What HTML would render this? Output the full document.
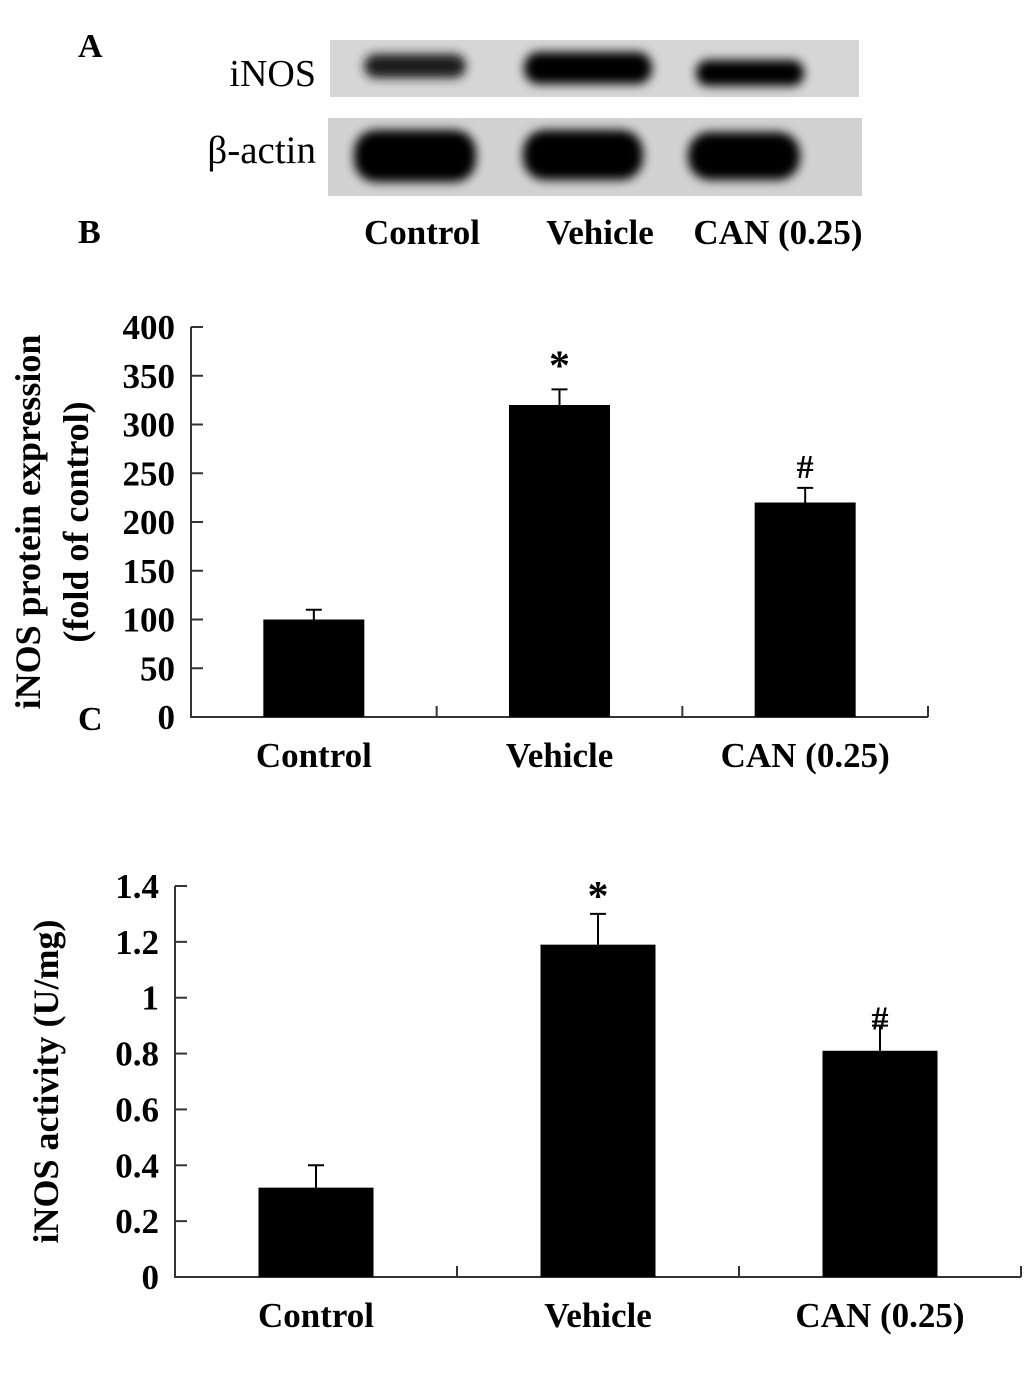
<!DOCTYPE html>
<html><head><meta charset="utf-8"><style>
html,body{margin:0;padding:0;background:#fff}
svg{display:block}
text{font-family:"Liberation Serif",serif;font-weight:bold;fill:#000}
</style></head><body>
<svg width="1033" height="1390" viewBox="0 0 1033 1390">
<defs>
<filter id="blur" x="-30%" y="-60%" width="160%" height="220%"><feGaussianBlur stdDeviation="5"/></filter>
</defs>
<g>
<text x="78" y="57" font-size="34">A</text>
<text x="316" y="86" font-size="38" text-anchor="end" style="font-weight:normal">iNOS</text>
<text x="316" y="163" font-size="39" text-anchor="end" style="font-weight:normal">β-actin</text>
<rect x="330" y="40" width="529" height="57" fill="#d6d6d6"/>
<rect x="328" y="118" width="534" height="78" fill="#d2d2d2"/>
<g filter="url(#blur)">
<rect x="364" y="54" width="102" height="24" rx="12" fill="#1a1a1a"/>
<rect x="524" y="52" width="128" height="32" rx="15" fill="#000"/>
<rect x="696" y="60" width="108" height="26" rx="12" fill="#050505"/>
<rect x="354" y="130" width="122" height="52" rx="22" fill="#000"/>
<rect x="523" y="130" width="120" height="50" rx="22" fill="#000"/>
<rect x="688" y="132" width="112" height="48" rx="22" fill="#000"/>
</g>
<text x="78" y="243" font-size="34">B</text>
<text x="422" y="244" font-size="35" text-anchor="middle">Control</text>
<text x="600" y="244" font-size="35" text-anchor="middle">Vehicle</text>
<text x="778" y="244" font-size="35" text-anchor="middle">CAN (0.25)</text>
<text x="78" y="730" font-size="34">C</text>
</g>
<g id="chartB"></g>
<g id="chartC"></g>
</svg>
<script>
const categories = ["Control", "Vehicle", "CAN (0.25)"];
const bValues = [100, 320, 220];
const bErrors = [10, 16, 15];
const bMarks = ["", "*", "#"];
const bTicks = [0, 50, 100, 150, 200, 250, 300, 350, 400];
const cValues = [0.32, 1.19, 0.81];
const cErrors = [0.08, 0.11, 0.09];
const cMarks = ["", "*", "#"];
const cTicks = ["0", "0.2", "0.4", "0.6", "0.8", "1", "1.2", "1.4"];

const NS = "http://www.w3.org/2000/svg";
function mk(parent, tag, attrs, txt) {
  const e = document.createElementNS(NS, tag);
  for (const k in attrs) e.setAttribute(k, attrs[k]);
  if (txt !== undefined) e.textContent = txt;
  parent.appendChild(e);
  return e;
}
function drawChart(g, cfg) {
  const y = v => cfg.y0 - (v - cfg.min) / (cfg.max - cfg.min) * (cfg.y0 - cfg.yTop);
  const slot = (cfg.xEnd - cfg.x0) / categories.length;
  const axis = mk(g, "path", {d: `M${cfg.x0} ${cfg.yTop}V${cfg.y0}H${cfg.xEnd}`, stroke: "#333", "stroke-width": 2, fill: "none"});
  
  
  cfg.ticks.forEach(t => {
    const v = parseFloat(t);
    const ty = y(v);
    const tk = mk(g, "line", {x1: cfg.x0, x2: cfg.x0 + 12, y1: ty, y2: ty, stroke: "#333", "stroke-width": 2});
    
    
    const tl = mk(g, "text", {x: cfg.x0 - 16, y: ty + 12, "font-size": 35, "text-anchor": "end"}, t);
    
    
  });
  categories.forEach((c, i) => {
    const sx = cfg.x0 + slot * (i + 1);
    const sep = mk(g, "line", {x1: sx, x2: sx, y1: cfg.y0, y2: cfg.y0 - 11, stroke: "#333", "stroke-width": 2});
    
    
    const cx = cfg.x0 + slot * (i + 0.5);
    const top = y(cfg.values[i]);
    const et = y(cfg.values[i] + cfg.errors[i]);
    const eb = mk(g, "path", {d: `M${cx} ${top}V${et}M${cx - 8} ${et}H${cx + 8}`, stroke: "#000", "stroke-width": 2, fill: "none"});
    
    
    const bar = mk(g, "rect", {x: cx - cfg.bw / 2, y: top, width: cfg.bw, height: cfg.y0 - top, fill: "#000"});
    
    
    if (cfg.marks[i]) {
      const star = cfg.marks[i] === "*";
      const m = mk(g, "text", {x: cx, y: star ? et + cfg.starDy : et + cfg.hashDy, "font-size": star ? 42 : 34, "text-anchor": "middle"}, cfg.marks[i]);
      
      
    }
    const xl = mk(g, "text", {x: cx, y: cfg.y0 + 50, "font-size": 35, "text-anchor": "middle"}, c);
    
    
  });
  cfg.titles.forEach((t, k) => {
    const tx = cfg.titleX[k];
    const ty = (cfg.y0 + cfg.yTop) / 2;
    const yt = mk(g, "text", {x: tx, y: ty, "font-size": 36, "text-anchor": "middle", transform: `rotate(-90 ${tx} ${ty})`}, t);
    
    
  });
}
drawChart(document.getElementById("chartB"), {x0: 191, xEnd: 928, yTop: 327, y0: 717, min: 0, max: 400, bw: 101, hashDy: -10, starDy: -10,
  ticks: bTicks.map(String), values: bValues, errors: bErrors, marks: bMarks,
  titles: ["iNOS protein expression", "(fold of control)"], titleX: [40, 88]});
drawChart(document.getElementById("chartC"), {x0: 175, xEnd: 1021, yTop: 886, y0: 1277, min: 0, max: 1.4, bw: 115, hashDy: 4, starDy: -4,
  ticks: cTicks, values: cValues, errors: cErrors, marks: cMarks,
  titles: ["iNOS activity (U/mg)"], titleX: [58]});
</script>
</body></html>
